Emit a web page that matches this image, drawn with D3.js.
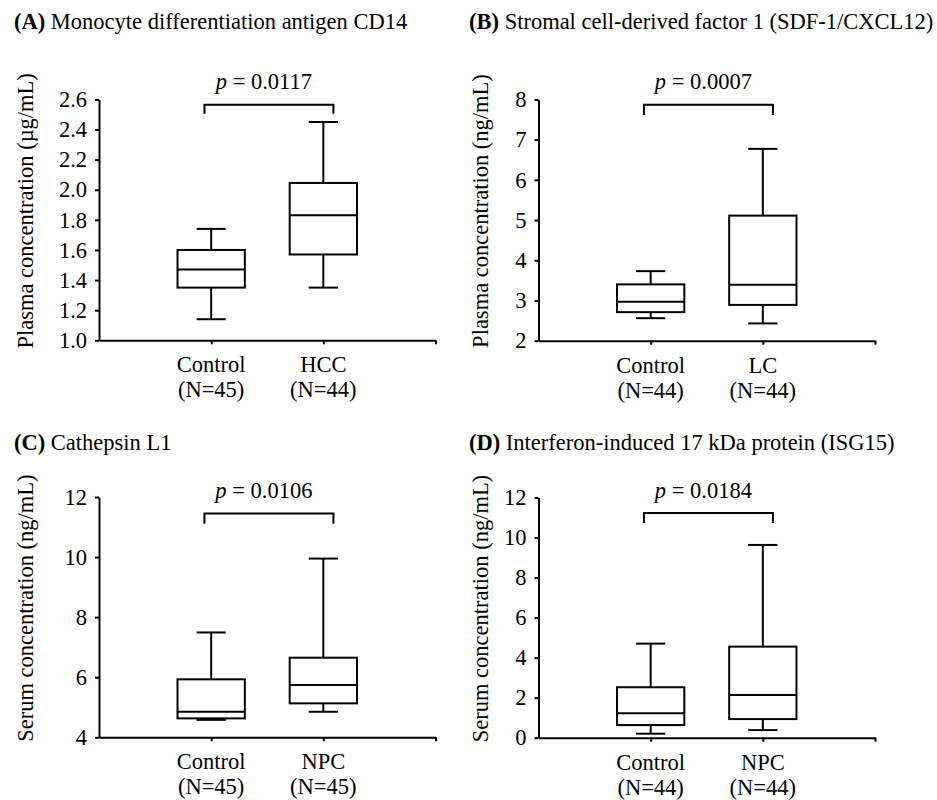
<!DOCTYPE html>
<html>
<head>
<meta charset="utf-8">
<script src="https://cdn.jsdelivr.net/npm/d3@7"></script>
<style>
  body { margin: 0; background: #fff; }
</style>
</head>
<body>
<svg id="chart" width="937" height="800"></svg>
<script>
// panel data
const panelLetters = ["A", "B", "C", "D"];
const panelTitles = [
  "Monocyte differentiation antigen CD14",
  "Stromal cell-derived factor 1 (SDF-1/CXCL12)",
  "Cathepsin L1",
  "Interferon-induced 17 kDa protein (ISG15)"
];
const yLabels = [
  "Plasma concentration (µg/mL)",
  "Plasma concentration (ng/mL)",
  "Serum concentration (ng/mL)",
  "Serum concentration (ng/mL)"
];
const groupNames = [["Control", "HCC"], ["Control", "LC"], ["Control", "NPC"], ["Control", "NPC"]];
const groupN = [[45, 44], [44, 44], [45, 45], [44, 44]];
const yDomains = [[1.0, 2.6], [2, 8], [4, 12], [0, 12]];
const yTicks = [
  [1.0, 1.2, 1.4, 1.6, 1.8, 2.0, 2.2, 2.4, 2.6],
  [2, 3, 4, 5, 6, 7, 8],
  [4, 6, 8, 10, 12],
  [0, 2, 4, 6, 8, 10, 12]
];
const tickFormats = [".1f", "d", "d", "d"];
// [min, q1, median, q3, max]
const controlBoxes = [
  [1.14, 1.35, 1.47, 1.60, 1.74],
  [2.56, 2.71, 2.97, 3.40, 3.73],
  [4.58, 4.63, 4.85, 5.93, 7.49],
  [0.20, 0.63, 1.22, 2.52, 4.70]
];
const caseBoxes = [
  [1.35, 1.57, 1.83, 2.045, 2.45],
  [2.43, 2.89, 3.39, 5.11, 6.77],
  [4.85, 5.13, 5.74, 6.65, 9.95],
  [0.38, 0.93, 2.13, 4.55, 9.63]
];
const pValues = ["0.0117", "0.0007", "0.0106", "0.0184"];
const bracketTop = [2.565, 7.87, 11.45, 11.22];
const bracketLeg = [2.504, 7.61, 11.11, 10.73];

const svg = d3.select("#chart");
const font = "Liberation Serif";
const fontSize = 22.5;
const plotW = 336.5;
const lefts = [99, 538.5, 99, 538.5];
const tops = [99.4, 99.4, 497, 497.5];
const bottoms = [340.3, 340.7, 737.3, 737.7];
const titleX = [14, 469, 14, 469];
const titleY = [29, 29, 450, 450];
const ylabX = [33, 488, 33, 488];

const addText = (sel) => sel.append("text")
  .attr("font-family", font)
  .attr("font-size", fontSize)
  .attr("fill", "#000");

panelLetters.forEach((letter, p) => {
  const x = d3.scaleLinear().domain([0, 3]).range([lefts[p], lefts[p] + plotW]);
  const y = d3.scaleLinear().domain(yDomains[p]).range([bottoms[p], tops[p]]);

  // title
  const title = addText(svg).attr("x", titleX[p]).attr("y", titleY[p]);
  title.append("tspan").attr("font-weight", "bold").text("(" + letter + ")");
  title.append("tspan").text(" " + panelTitles[p]);

  // y axis
  const yAxis = svg.append("g")
    .attr("transform", `translate(${lefts[p]},0)`)
    .call(d3.axisLeft(y).tickValues(yTicks[p]).tickFormat(d3.format(tickFormats[p]))
      .tickSize(4).tickPadding(8).tickSizeOuter(0));
  yAxis.attr("font-family", font).attr("font-size", fontSize);
  yAxis.selectAll("path, line").attr("stroke", "#000").attr("stroke-width", 2);
  yAxis.selectAll("text").attr("fill", "#000");

  // x axis
  const xAxis = svg.append("g")
    .attr("transform", `translate(0,${bottoms[p]})`)
    .call(d3.axisBottom(x).tickValues([1, 2, 3]).tickFormat("").tickSize(4).tickSizeOuter(0));
  xAxis.selectAll("path, line").attr("stroke", "#000").attr("stroke-width", 2);

  // category labels
  groupNames[p].forEach((name, i) => {
    const t = addText(svg).attr("text-anchor", "middle");
    t.append("tspan").attr("x", x(i + 1)).attr("y", bottoms[p] + 32).text(name);
    t.append("tspan").attr("x", x(i + 1)).attr("y", bottoms[p] + 57).text("(N=" + groupN[p][i] + ")");
  });

  // y label
  addText(svg)
    .attr("transform", `translate(${ylabX[p]},${(tops[p] + bottoms[p]) / 2 - 9}) rotate(-90)`)
    .attr("text-anchor", "middle")
    .text(yLabels[p]);

  // boxes
  const boxes = [controlBoxes[p], caseBoxes[p]];
  const g = svg.append("g").attr("stroke", "#000").attr("stroke-width", 2).attr("fill", "none");
  boxes.forEach((b, i) => {
    const cx = i + 1;
    const [mn, q1, med, q3, mx] = b;
    g.append("line").attr("x1", x(cx)).attr("x2", x(cx)).attr("y1", y(mn)).attr("y2", y(q1));
    g.append("line").attr("x1", x(cx)).attr("x2", x(cx)).attr("y1", y(q3)).attr("y2", y(mx));
    g.append("line").attr("x1", x(cx - 0.13)).attr("x2", x(cx + 0.13)).attr("y1", y(mn)).attr("y2", y(mn));
    g.append("line").attr("x1", x(cx - 0.13)).attr("x2", x(cx + 0.13)).attr("y1", y(mx)).attr("y2", y(mx));
    g.append("rect")
      .attr("x", x(cx - 0.3)).attr("width", x(cx + 0.3) - x(cx - 0.3))
      .attr("y", y(q3)).attr("height", y(q1) - y(q3))
      .attr("fill", "#fff");
    g.append("line").attr("x1", x(cx - 0.3)).attr("x2", x(cx + 0.3)).attr("y1", y(med)).attr("y2", y(med));
  });

  // significance bracket
  const bx0 = x(0.94), bx1 = x(2.09);
  g.append("path")
    .attr("d", `M${bx0},${y(bracketLeg[p])}V${y(bracketTop[p])}H${bx1}V${y(bracketLeg[p])}`);
  const pt = addText(svg)
    .attr("x", x(1.47)).attr("y", y(bracketTop[p]) - 15.5)
    .attr("text-anchor", "middle");
  pt.append("tspan").attr("font-style", "italic").text("p");
  pt.append("tspan").text(" = " + pValues[p]);
});
</script>
</body>
</html>
